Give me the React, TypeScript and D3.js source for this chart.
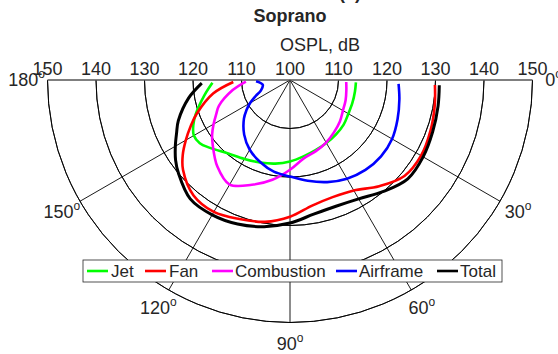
import React from "react";
import * as d3 from "d3";

// Emission angles (deg), 0 = forward axis on the right, 180 = aft on the left
const angles = [2, 10, 20, 30, 40, 50, 60, 70, 80, 90, 100, 110, 120, 130, 140, 145, 150, 155, 160, 170, 178];

// OSPL (dB) per noise component
const jet = [113.6, 113.6, 113.7, 113.9, 114.4, 114.7, 115.0, 115.4, 116.0, 116.8, 117.5, 118.1, 118.8, 119.8, 121.7, 122.7, 122.9, 122.0, 120.7, 117.9, 116.0];
const fan = [129.9, 130.3, 130.8, 131.2, 130.8, 128.6, 126.3, 125.7, 126.3, 128.2, 129.7, 130.5, 131.4, 131.0, 128.8, 127.0, 124.8, 122.6, 120.5, 116.1, 111.7];
const combustion = [111.6, 111.8, 112.2, 112.6, 113.4, 114.1, 114.9, 115.6, 116.4, 118.5, 120.9, 123.0, 124.9, 123.3, 120.8, 119.6, 118.2, 116.8, 115.6, 112.0, 109.1];
const airframe = [122.4, 122.9, 123.6, 124.3, 124.5, 124.2, 123.5, 122.4, 121.1, 119.9, 119.2, 118.0, 116.6, 114.7, 112.4, 111.0, 109.5, 107.8, 106.4, 105.7, 107.0];
const total = [130.8, 131.0, 131.3, 131.7, 131.7, 130.0, 128.3, 127.7, 128.1, 129.5, 130.7, 131.6, 132.1, 132.0, 130.0, 128.8, 127.3, 125.8, 124.5, 121.2, 118.2];

const seriesNames = ["Jet", "Fan", "Combustion", "Airframe", "Total"];
const seriesValues = [jet, fan, combustion, airframe, total];
const seriesColors = ["#00ff00", "#ff0000", "#ff00ff", "#0000ff", "#000000"];

const ringValues = [110, 120, 130, 140, 150];
const spokeAngles = [30, 60, 90, 120, 150];
const angleLabels = [0, 30, 60, 90, 120, 150, 180];

const W = 558;
const H = 354;
const cx = 290;
const cy = 80;
const R = 242.5;
const FONT = "'Liberation Sans', Arial, Helvetica, sans-serif";
const TEXT = "#262626";

export default function App() {
  const r = d3.scaleLinear().domain([100, 150]).range([0, R]);
  const rad = (deg: number) => (deg * Math.PI) / 180;

  const line = d3
    .lineRadial<{ a: number; v: number }>()
    .angle((d) => rad(d.a + 90))
    .radius((d) => r(d.v))
    .curve(d3.curveCatmullRom.alpha(0.5));

  const ringArc = (v: number) =>
    d3.arc()({ innerRadius: r(v), outerRadius: r(v), startAngle: rad(90), endAngle: rad(270) }) as string;

  const legendX = 83;
  const legendY = 260;
  const legendH = 22;
  const legendEntries = [
    { x: 87, tx: 111 },
    { x: 145, tx: 169 },
    { x: 212, tx: 235 },
    { x: 336, tx: 359 },
    { x: 437, tx: 460 },
  ];

  return (
    <svg
      width={W}
      height={H}
      style={{ position: "fixed", left: 0, top: 0, background: "#ffffff" }}
      fontFamily={FONT}
    >
      <rect x={0} y={0} width={W} height={H} fill="#ffffff" />

      {/* title block */}
      <text x={350} y={-1} textAnchor="middle" fontSize={18} fontWeight="bold" fill={TEXT}>
        (a)
      </text>
      <text x={290} y={22} textAnchor="middle" fontSize={18} fontWeight="bold" fill={TEXT}>
        Soprano
      </text>
      <text x={320} y={51} textAnchor="middle" fontSize={18} fill={TEXT}>
        OSPL, dB
      </text>

      <g transform={`translate(${cx},${cy})`}>
        {/* range rings */}
        {ringValues.map((v) => (
          <path key={v} d={ringArc(v)} fill="none" stroke="#000" strokeWidth={0.9} />
        ))}
        {/* spokes */}
        {spokeAngles.map((a) => (
          <line
            key={a}
            x1={0}
            y1={0}
            x2={r(150) * Math.cos(rad(a))}
            y2={r(150) * Math.sin(rad(a))}
            stroke="#000"
            strokeWidth={0.9}
          />
        ))}
        {/* diameter */}
        <line x1={-r(150)} y1={0} x2={r(150)} y2={0} stroke="#555" strokeWidth={1.3} />

        {/* ring labels along the top */}
        {[...ringValues].reverse().map((v) => (
          <text key={"l" + v} x={-r(v)} y={-5} textAnchor="middle" fontSize={18} fill={TEXT}>
            {v}
          </text>
        ))}
        <text x={0} y={-5} textAnchor="middle" fontSize={18} fill={TEXT}>
          100
        </text>
        {ringValues.map((v) => (
          <text key={"r" + v} x={r(v)} y={-5} textAnchor="middle" fontSize={18} fill={TEXT}>
            {v}
          </text>
        ))}

        {/* angle labels */}
        {angleLabels.map((a) => {
          const lr = R + 21;
          const x = lr * Math.cos(rad(a));
          const y = lr * Math.sin(rad(a));
          return (
            <text key={"a" + a} x={x} y={y + 6} textAnchor="middle" fontSize={18} fill={TEXT}>
              <tspan>{a}</tspan>
              <tspan dy={-8} fontSize={12}>o</tspan>
            </text>
          );
        })}

        {/* directivity curves */}
        {seriesValues.map((vals, i) => (
          <path
            key={seriesNames[i]}
            d={line(angles.map((a, j) => ({ a, v: vals[j] }))) as string}
            fill="none"
            stroke={seriesColors[i]}
            strokeWidth={i === 4 ? 3 : 2.6}
            strokeLinejoin="round"
          />
        ))}
      </g>

      {/* legend */}
      <rect
        x={legendX}
        y={legendY}
        width={502 - legendX}
        height={legendH}
        fill="#ffffff"
        stroke="#262626"
        strokeWidth={0.8}
      />
      {seriesNames.map((name, i) => (
        <g key={"lg" + name}>
          <line
            x1={legendEntries[i].x}
            x2={legendEntries[i].x + 21}
            y1={legendY + legendH / 2}
            y2={legendY + legendH / 2}
            stroke={seriesColors[i]}
            strokeWidth={2.6}
          />
          <text x={legendEntries[i].tx} y={legendY + legendH / 2 + 6} fontSize={17} fill={TEXT}>
            {name}
          </text>
        </g>
      ))}
    </svg>
  );
}
